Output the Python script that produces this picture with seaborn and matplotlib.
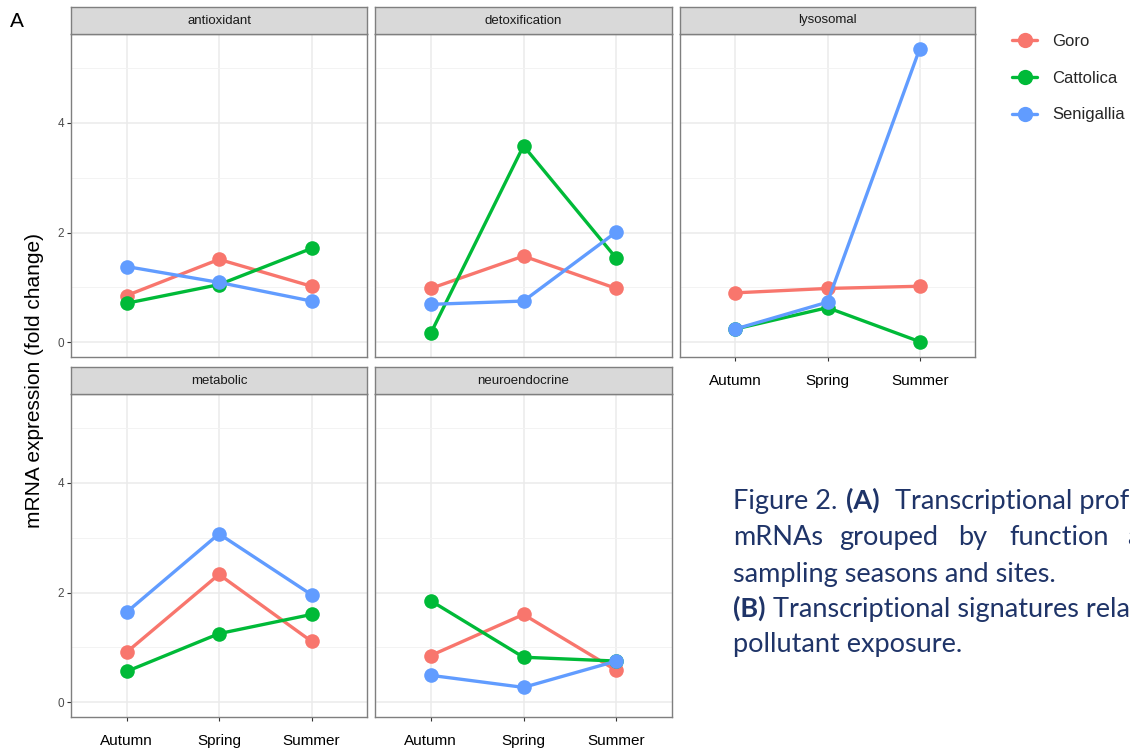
import numpy as np
import pandas as pd
import matplotlib
matplotlib.use("Agg")
import matplotlib.pyplot as plt
from matplotlib.lines import Line2D
from matplotlib.ticker import FixedLocator
import seaborn as sns

# -------- DATA --------
seasons   = ["Autumn", "Spring", "Summer"]
sites     = ["Goro", "Cattolica", "Senigallia"]
functions = ["antioxidant", "detoxification", "lysosomal", "metabolic", "neuroendocrine"]

# one row per function, values for Autumn / Spring / Summer
goro       = [[0.85, 1.51, 1.02], [0.98, 1.57, 0.98], [0.90, 0.98, 1.02], [0.91, 2.33, 1.11], [0.85, 1.60, 0.58]]
cattolica  = [[0.71, 1.05, 1.71], [0.16, 3.58, 1.53], [0.24, 0.63, 0.01], [0.56, 1.25, 1.60], [1.85, 0.82, 0.75]]
senigallia = [[1.38, 1.09, 0.75], [0.69, 0.75, 2.01], [0.24, 0.73, 5.35], [1.64, 3.07, 1.96], [0.49, 0.27, 0.75]]

site_colors = {"Goro": "#F8766D", "Cattolica": "#00BA38", "Senigallia": "#619CFF"}

rows = []
for site, table in zip(sites, [goro, cattolica, senigallia]):
    for func, vals in zip(functions, table):
        for season, v in zip(seasons, vals):
            rows.append({"site": site, "function": func, "season": season, "fold": v})
df = pd.DataFrame(rows)

# -------- LAYOUT (pixel boxes: x0, y0, x1, y1) --------
W, H = 1130, 751
panel_px = {
    "antioxidant":    (71, 34, 367, 357),
    "detoxification": (375, 34, 672, 357),
    "lysosomal":      (680, 34, 975, 357),
    "metabolic":      (71, 394, 367, 717),
    "neuroendocrine": (375, 394, 672, 717),
}
left_col = {"antioxidant", "metabolic"}
with_xlabels = {"lysosomal", "metabolic", "neuroendocrine"}


def box(x0, y0, x1, y1):
    return [x0 / W, 1 - y1 / H, (x1 - x0) / W, (y1 - y0) / H]


sns.set_style("white")
plt.rcParams["font.family"] = ["Liberation Sans", "DejaVu Sans"]

border = "#7F7F7F"
fig = plt.figure(figsize=(W / 100, H / 100), dpi=100)

for func in functions:
    x0, y0, x1, y1 = panel_px[func]
    ax = fig.add_axes(box(x0, y0, x1, y1))
    sub = df[df["function"] == func]
    sns.pointplot(
        data=sub, x="season", y="fold", hue="site",
        order=seasons, hue_order=sites, palette=site_colors,
        markers="o", linestyles="-", errorbar=None, legend=False,
        markersize=10.5, markeredgewidth=0, linewidth=2.4, ax=ax,
    )
    ax.set_xlim(-0.6, 2.6)
    ax.set_ylim(-0.27, 5.62)
    ax.yaxis.set_major_locator(FixedLocator([0, 2, 4]))
    ax.yaxis.set_minor_locator(FixedLocator([1, 3, 5]))
    ax.set_axisbelow(True)
    ax.grid(True, which="major", color="#EBEBEB", linewidth=1.1)
    ax.grid(True, which="minor", axis="y", color="#F3F3F3", linewidth=0.7)
    ax.set_xlabel("")
    ax.set_ylabel("")
    for sp in ax.spines.values():
        sp.set_color(border)
        sp.set_linewidth(1.0)

    ax.tick_params(axis="y", which="minor", left=False)
    if func in left_col:
        ax.tick_params(axis="y", which="major", left=True, length=3, width=0.8,
                       color="#333333", labelsize=8.5, labelcolor="#4D4D4D", pad=2)
    else:
        ax.tick_params(axis="y", which="major", left=False, labelleft=False)
    if func in with_xlabels:
        ax.tick_params(axis="x", bottom=True, length=3, width=0.8, color="#333333",
                       labelsize=11, labelcolor="black", pad=9)
    else:
        ax.tick_params(axis="x", bottom=False, labelbottom=False)

    # facet strip
    sax = fig.add_axes(box(x0, y0 - 27, x1, y0))
    sax.set_facecolor("#D9D9D9")
    sax.set_xticks([])
    sax.set_yticks([])
    for sp in sax.spines.values():
        sp.set_color(border)
        sp.set_linewidth(1.0)
    sax.text(0.5, 0.5, func, ha="center", va="center", fontsize=9.5, color="#1A1A1A",
             transform=sax.transAxes)

# shared y label and panel letter
fig.text(35 / W, 1 - 380 / H, "mRNA expression (fold change)", rotation=90,
         ha="center", va="center", fontsize=15, color="black")
fig.text(10 / W, 1 - 27 / H, "A", ha="left", va="baseline", fontsize=15, color="black")

# legend
handles = [Line2D([0], [0], color=site_colors[s], marker="o", markersize=11,
                  markeredgewidth=0, linewidth=2.4) for s in sites]
fig.legend(handles, sites, loc="upper left", bbox_to_anchor=(1012 / W, 1 - 34 / H),
           frameon=False, fontsize=12, handlelength=1.5, handletextpad=0.9,
           labelspacing=1.3, borderpad=0, borderaxespad=0)

# caption (cut off at the right edge, as in the reference)
navy = "#1F3468"
cap = dict(family=["Lato", "DejaVu Sans"], fontsize=19.5, color=navy, va="baseline", ha="left")
fig.text(733 / W, 1 - 509 / H, "Figure 2.", **cap)
fig.text(846 / W, 1 - 509 / H, "(A)", fontweight="bold", **cap)
fig.text(895 / W, 1 - 509 / H, "Transcriptional profiles of", **cap)
for word, xp in zip(["mRNAs", "grouped", "by", "function", "and"], [733, 839, 958, 1009, 1127]):
    fig.text(xp / W, 1 - 545 / H, word, **cap)
fig.text(733 / W, 1 - 582 / H, "sampling seasons and sites.", **cap)
fig.text(733 / W, 1 - 617 / H, "(B)", fontweight="bold", **cap)
fig.text(773 / W, 1 - 617 / H, "Transcriptional signatures related to", **cap)
fig.text(733 / W, 1 - 652 / H, "pollutant exposure.", **cap)

fig.savefig("out.png", dpi=100)
